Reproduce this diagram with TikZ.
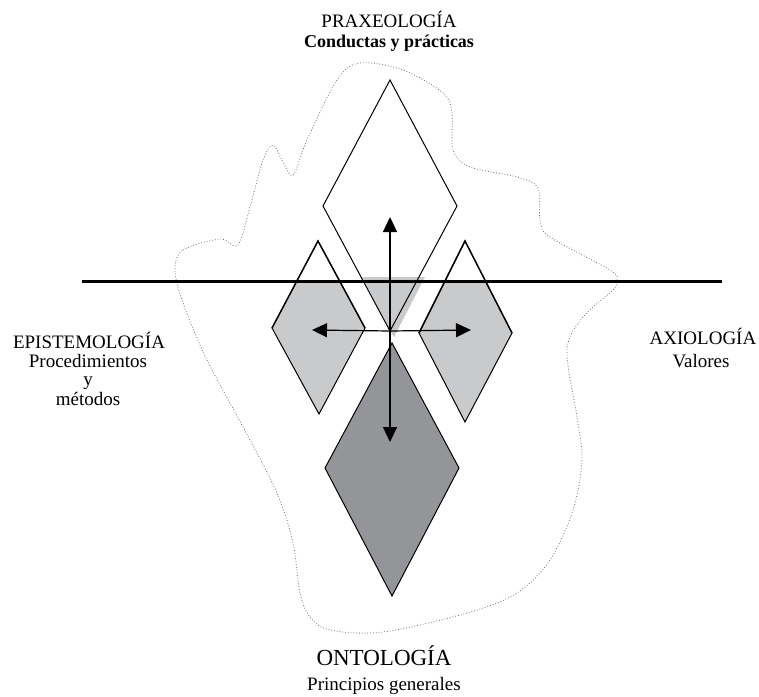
\documentclass[tikz,border=0pt]{standalone}
\usepackage{fontspec}
\setmainfont{Liberation Serif}
\usetikzlibrary{arrows.meta}
\definecolor{lightg}{HTML}{C9CACC}
\definecolor{darkg}{HTML}{939598}
\definecolor{blobc}{HTML}{707070}
\tikzset{
  title/.style={anchor=base,inner sep=0pt,font=\fontsize{19}{22}\selectfont},
  bigtitle/.style={anchor=base,inner sep=0pt,font=\fontsize{23}{26}\selectfont},
  subtitle/.style={anchor=base,inner sep=0pt,font=\fontsize{19}{22}\selectfont},
  outline/.style={draw=black,line width=1pt,line join=miter},
  axis/.style={line width=1.2pt,-{Triangle[length=15pt,width=14pt]}},
  blob/.style={draw=blobc,line width=0.8pt,dotted}
}
\begin{document}
\begin{tikzpicture}[x=1pt,y=-1pt]
\useasboundingbox (0,0) rectangle (759,696);
\fill[white] (0,0) rectangle (759,696);
% dotted outline
\draw[blob] plot[smooth cycle,tension=0.55] coordinates {
 (175,270) (183,250) (220,239) (238,245) (250,207) (263,160) (273,145)
 (282,160) (293,175) (307,140) (337,80) (360,63) (403,70) (443,93)
 (452,113) (453,150) (470,167) (517,177) (538,188) (540,220) (550,237)
 (610,270) (617,280) (613,290) (583,317) (567,350) (577,417) (582,460)
 (573,510) (550,560) (517,593) (467,613) (383,632) (330,630) (310,617)
 (300,593) (293,543) (277,493) (243,427) (207,360) (183,303)};
% coordinates
\coordinate (c) at (390,331);
\coordinate (upTip) at (390,217);
\coordinate (downTip) at (390,442);
\coordinate (leftTip) at (312,330);
\coordinate (rightTip) at (471,330);
\coordinate (hl) at (82,281);
\coordinate (hr) at (722,281);
% small diamonds: light grey below line
\begin{scope}
 \clip (0,281) rectangle (759,696);
 \fill[lightg] (318,241) -- (365,328) -- (319,414) -- (272,328) -- cycle;
 \fill[lightg] (465,241) -- (512,333) -- (465,422) -- (419,333) -- cycle;
\end{scope}
% grey part of top diamond below line
\fill[lightg] (362,277) -- (425,277) -- (394,337) -- (390,331) -- cycle;
% outlines
\draw[outline] (318,241) -- (365,328) -- (319,414) -- (272,328) -- cycle;
\draw[outline] (465,241) -- (512,333) -- (465,422) -- (419,333) -- cycle;
\draw[outline,line width=1.4pt] (272,328) -- (318,241) -- (365,328);
\draw[outline,line width=1.4pt] (419,333) -- (465,241) -- (512,333);
\draw[outline] (390,80) -- (457,206) -- (c) -- (323,206) -- cycle;
% bottom dark diamond
\draw[outline,fill=darkg] (392,343) -- (459,468) -- (392,596) -- (325,468) -- cycle;
% horizontal line
\draw[line width=3pt] (hl) -- (hr);
% arrows
\draw[axis] (c) -- (upTip);
\draw[axis] (c) -- (downTip);
\draw[axis] (c) -- (leftTip);
\draw[axis] (c) -- (rightTip);
% labels
\node[title] (prax) at (389,27) {PRAXEOLOGÍA};
\node[subtitle,font=\fontsize{18}{22}\selectfont\bfseries] (praxs) at (389,47) {Conductas y prácticas};
\node[title] (epis) at (89,348) {EPISTEMOLOGÍA};
\node[subtitle] (epis1) at (88,367) {Procedimientos};
\node[subtitle] (epis2) at (88,385) {y};
\node[subtitle] (epis3) at (88,405) {métodos};
\node[title] (axio) at (703,344) {AXIOLOGÍA};
\node[subtitle] (axios) at (701,367) {Valores};
\node[bigtitle] (onto) at (384,665) {ONTOLOGÍA};
\node[subtitle] (ontos) at (384,690) {Principios generales};
\end{tikzpicture}
\end{document}
